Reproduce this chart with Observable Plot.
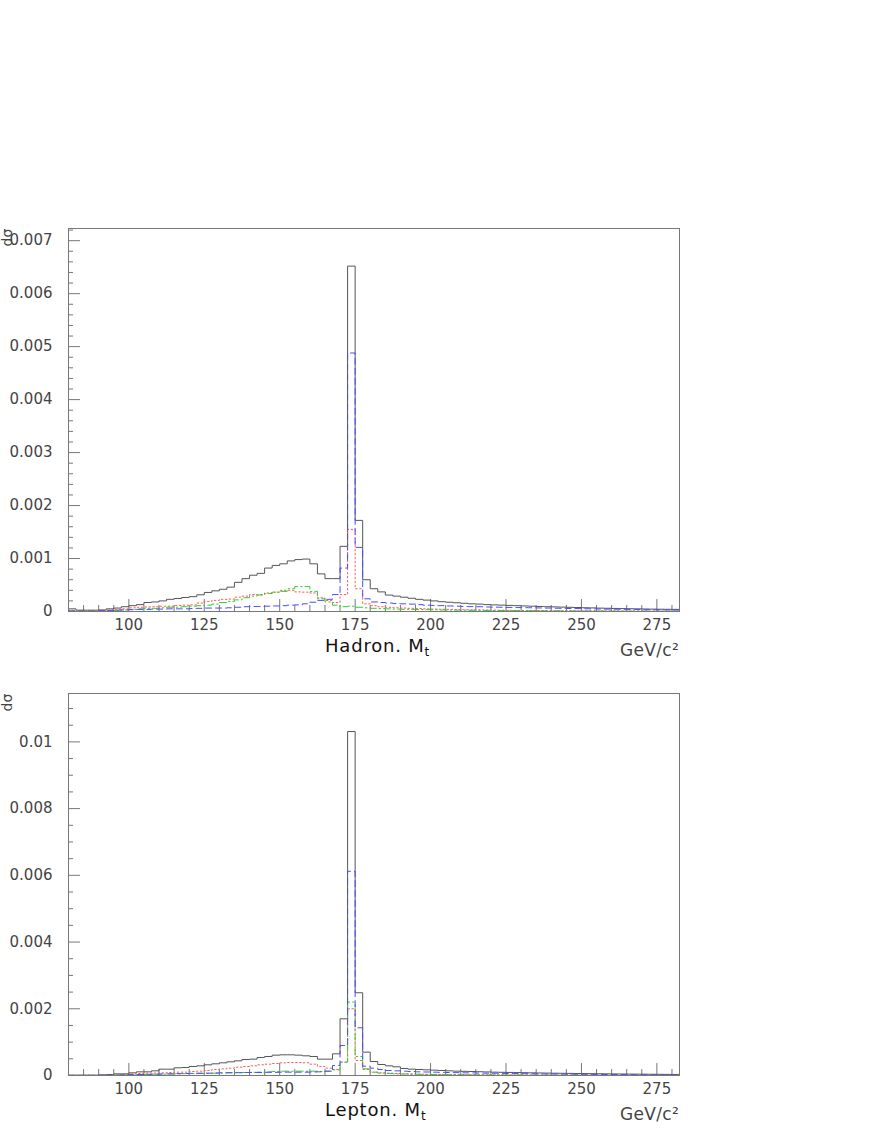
<!DOCTYPE html>
<html><head><meta charset="utf-8">
<script src="https://cdn.jsdelivr.net/npm/d3@7"></script>
<script src="https://cdn.jsdelivr.net/npm/@observablehq/plot@0.6"></script>
<style>
body{margin:0;background:#fff;}
#chart{position:relative;width:872px;height:1128px;font-family:"DejaVu Sans",sans-serif;overflow:hidden;}
#chart svg{position:absolute;left:0;}
.lbl{position:absolute;white-space:nowrap;line-height:1;}
.rot{position:absolute;width:30px;height:15px;text-align:center;font-size:14px;line-height:15px;color:#444;transform:rotate(-90deg);}
.sub{font-size:12px;vertical-align:-4px;}
</style></head><body><div id="chart"></div>
<script>
// bins: 2.5 GeV wide from 80 GeV; values in units of 1e-3
const binStart = 80, binWidth = 2.5;
const xTicksMajor = [100, 125, 150, 175, 200, 225, 250, 275];
const yTicksHadron = [0, 1, 2, 3, 4, 5, 6, 7];
const yTicksLepton = [0, 2, 4, 6, 8, 10];

const hadTotal = [0.05,0.025,0.025,0.025,0.03,0.05,0.065,0.09,0.11,0.13,
  0.17,0.18,0.20,0.23,0.245,0.265,0.28,0.315,0.36,0.39,
  0.42,0.46,0.55,0.62,0.685,0.72,0.82,0.87,0.90,0.955,
  0.98,0.99,0.90,0.71,0.62,0.62,1.23,6.52,1.72,0.60,
  0.43,0.37,0.31,0.29,0.27,0.25,0.23,0.215,0.20,0.185,
  0.175,0.165,0.155,0.145,0.14,0.13,0.125,0.12,0.115,0.11,
  0.105,0.10,0.095,0.09,0.087,0.083,0.079,0.075,0.071,0.068,
  0.064,0.061,0.058,0.055,0.052,0.05,0.047,0.045,0.043,0.041,0.04];
const hadRed = [0.02,0.02,0.02,0.02,0.02,0.03,0.04,0.05,0.07,0.08,
  0.085,0.09,0.10,0.10,0.115,0.12,0.125,0.16,0.19,0.21,
  0.23,0.235,0.27,0.29,0.32,0.32,0.35,0.365,0.40,0.40,
  0.37,0.365,0.35,0.26,0.21,0.17,0.32,1.55,0.43,0.145,
  0.11,0.09,0.08,0.07,0.065,0.06,0.055,0.05,0.046,0.042,
  0.04,0.037,0.034,0.032,0.03,0.028,0.026,0.024,0.022,0.021,
  0.02,0.019,0.018,0.017,0.016,0.015,0.014,0.013,0.012,0.012,
  0.011,0.01,0.01,0.009,0.009,0.008,0.008,0.007,0.007,0.006,0.006];
const hadGreen = [0.01,0.01,0.01,0.01,0.01,0.015,0.02,0.03,0.04,0.05,
  0.06,0.06,0.07,0.08,0.08,0.09,0.10,0.11,0.12,0.14,
  0.17,0.19,0.22,0.26,0.29,0.31,0.34,0.365,0.38,0.43,
  0.47,0.47,0.38,0.24,0.18,0.12,0.09,0.10,0.08,0.07,
  0.06,0.055,0.05,0.045,0.042,0.04,0.037,0.035,0.032,0.03,
  0.028,0.026,0.025,0.023,0.022,0.02,0.019,0.018,0.017,0.016,
  0.015,0.014,0.013,0.012,0.012,0.011,0.01,0.01,0.009,0.009,
  0.008,0.008,0.007,0.007,0.006,0.006,0.006,0.005,0.005,0.005,0.005];
const hadBlue = [0.01,0.01,0.01,0.01,0.015,0.02,0.025,0.03,0.035,0.04,
  0.04,0.045,0.045,0.05,0.05,0.05,0.055,0.06,0.065,0.065,
  0.065,0.07,0.08,0.09,0.095,0.095,0.10,0.105,0.11,0.12,
  0.125,0.145,0.175,0.21,0.23,0.32,0.82,4.88,1.21,0.24,
  0.18,0.17,0.16,0.15,0.145,0.14,0.13,0.12,0.115,0.11,
  0.105,0.10,0.095,0.092,0.09,0.085,0.082,0.08,0.077,0.074,
  0.072,0.07,0.067,0.065,0.062,0.06,0.057,0.055,0.052,0.05,
  0.047,0.045,0.043,0.041,0.039,0.037,0.035,0.033,0.031,0.03,0.029];

const lepTotal = [0.01,0.01,0.01,0.01,0.02,0.03,0.05,0.05,0.08,0.11,
  0.11,0.14,0.19,0.19,0.23,0.24,0.27,0.29,0.32,0.35,
  0.38,0.41,0.44,0.48,0.49,0.54,0.57,0.61,0.62,0.62,
  0.61,0.59,0.57,0.49,0.49,0.65,1.70,10.31,2.48,0.70,
  0.42,0.33,0.29,0.26,0.21,0.19,0.18,0.17,0.16,0.15,
  0.14,0.13,0.125,0.12,0.113,0.107,0.10,0.096,0.092,0.088,
  0.084,0.08,0.076,0.072,0.069,0.066,0.063,0.06,0.057,0.055,
  0.052,0.05,0.047,0.045,0.043,0.041,0.039,0.037,0.035,0.033,0.031];
const lepRed = [0.005,0.005,0.005,0.005,0.01,0.01,0.02,0.03,0.05,0.06,
  0.07,0.07,0.08,0.09,0.10,0.10,0.12,0.13,0.15,0.18,
  0.20,0.22,0.25,0.27,0.29,0.32,0.34,0.36,0.38,0.39,
  0.39,0.38,0.34,0.27,0.22,0.18,0.40,2.00,0.45,0.18,
  0.10,0.08,0.07,0.06,0.05,0.045,0.04,0.037,0.034,0.031,
  0.028,0.026,0.024,0.022,0.021,0.02,0.019,0.018,0.017,0.016,
  0.015,0.014,0.013,0.012,0.011,0.011,0.01,0.01,0.009,0.009,
  0.008,0.008,0.007,0.007,0.006,0.006,0.006,0.005,0.005,0.005,0.004];
const lepGreen = [0.005,0.005,0.005,0.005,0.01,0.01,0.015,0.02,0.025,0.03,
  0.03,0.035,0.04,0.045,0.05,0.055,0.06,0.06,0.065,0.07,
  0.075,0.08,0.085,0.09,0.095,0.10,0.11,0.12,0.13,0.13,
  0.13,0.13,0.13,0.12,0.13,0.17,0.40,2.20,0.57,0.20,
  0.10,0.07,0.06,0.05,0.045,0.04,0.036,0.033,0.03,0.027,
  0.025,0.023,0.021,0.02,0.018,0.017,0.016,0.015,0.014,0.013,
  0.012,0.011,0.011,0.01,0.01,0.009,0.009,0.008,0.008,0.007,
  0.007,0.006,0.006,0.006,0.005,0.005,0.005,0.004,0.004,0.004,0.004];
const lepBlue = [0.003,0.003,0.005,0.005,0.008,0.01,0.015,0.02,0.025,0.03,
  0.035,0.04,0.045,0.05,0.055,0.06,0.065,0.07,0.07,0.075,
  0.08,0.085,0.085,0.09,0.09,0.09,0.095,0.095,0.10,0.10,
  0.10,0.10,0.105,0.11,0.13,0.30,0.90,6.12,1.43,0.28,
  0.22,0.18,0.15,0.14,0.13,0.12,0.11,0.105,0.10,0.095,
  0.09,0.085,0.08,0.077,0.073,0.07,0.067,0.064,0.06,0.057,
  0.055,0.052,0.05,0.047,0.045,0.043,0.04,0.038,0.036,0.034,
  0.032,0.03,0.029,0.027,0.026,0.024,0.023,0.022,0.021,0.02,0.019];

function histPoints(vals) {
  const pts = vals.map((v, i) => ({x: binStart + i * binWidth, y: v}));
  pts.push({x: binStart + vals.length * binWidth, y: vals[vals.length - 1]});
  return pts;
}

const axisColor = "#777";
const W = 872, ML = 68, MR = 193;

function panel({series, height, mTop, mBottom, ymax, majorY, minorStep}) {
  const frameW = W - ML - MR;
  const frameH = height - mTop - mBottom;
  const xMinor = d3.range(85, 282, 5).filter(d => d % 25 !== 0);
  const yMinor = d3.range(minorStep, ymax, minorStep).map(d => +d.toFixed(3)).filter(d => !majorY.includes(d));
  const styles = [
    {vals: series[0], stroke: "#555", dash: null, sw: 1},
    {vals: series[1], stroke: "#ff5a5a", dash: "1.5,2.5", sw: 1},
    {vals: series[2], stroke: "#33cc33", dash: "7,3,1.5,3", sw: 1},
    {vals: series[3], stroke: "#4b4bff", dash: "6,4", sw: 1}
  ];
  return Plot.plot({
    width: W, height, marginLeft: ML, marginRight: MR, marginTop: mTop, marginBottom: mBottom,
    style: {fontFamily: "DejaVu Sans", fontSize: "15px", color: "#444", background: "transparent", overflow: "visible"},
    x: {domain: [binStart, 282.5]},
    y: {domain: [0, ymax]},
    marks: [
      Plot.axisX(xTicksMajor, {tickSize: 0, tickPadding: 8, label: null, fontSize: 15}),
      Plot.axisY(majorY, {tickSize: 0, tickPadding: 16, label: null, fontSize: 15,
        tickFormat: d => d === 0 ? "0" : String(+(d / 1000).toFixed(4))}),
      Plot.tickX(xTicksMajor, {x: d => d, insetTop: frameH - 12, stroke: axisColor}),
      Plot.tickX(xMinor, {x: d => d, insetTop: frameH - 6, stroke: axisColor}),
      Plot.tickY(majorY, {y: d => d, insetRight: frameW - 12, stroke: axisColor}),
      Plot.tickY(yMinor, {y: d => d, insetRight: frameW - 5, stroke: axisColor}),
      ...styles.map(s => Plot.line(histPoints(s.vals), {
        x: "x", y: "y", curve: "step-after", stroke: s.stroke, strokeWidth: s.sw,
        strokeDasharray: s.dash
      })),
      Plot.frame({stroke: axisColor})
    ]
  });
}

const chart = document.getElementById("chart");

const topPanel = panel({series: [hadTotal, hadRed, hadGreen, hadBlue], height: 670, mTop: 228, mBottom: 59,
  ymax: 7.23, majorY: yTicksHadron, minorStep: 0.2});
topPanel.style.top = "0px";
chart.appendChild(topPanel);

const bottomPanel = panel({series: [lepTotal, lepRed, lepGreen, lepBlue], height: 458, mTop: 23, mBottom: 53,
  ymax: 11.45, majorY: yTicksLepton, minorStep: 0.5});
bottomPanel.style.top = "670px";
chart.appendChild(bottomPanel);

function addLabel(html, css, cls) {
  const d = document.createElement("div");
  d.className = cls || "lbl";
  d.innerHTML = html;
  Object.assign(d.style, css);
  chart.appendChild(d);
}
addLabel("d&sigma;", {left: "-8px", top: "230px"}, "rot");
addLabel("d&sigma;", {left: "-8px", top: "695px"}, "rot");
addLabel('Hadron. M<span class="sub">t</span>', {left: "325px", top: "637px", fontSize: "18px", letterSpacing: "0.8px", color: "#111"});
addLabel('GeV/c²', {right: "193px", top: "642px", fontSize: "17px", letterSpacing: "0.3px", color: "#444"});
addLabel('Lepton. M<span class="sub">t</span>', {left: "325px", top: "1101px", fontSize: "18px", letterSpacing: "0.8px", color: "#111"});
addLabel('GeV/c²', {right: "193px", top: "1106px", fontSize: "17px", letterSpacing: "0.3px", color: "#444"});
</script>
</body></html>
